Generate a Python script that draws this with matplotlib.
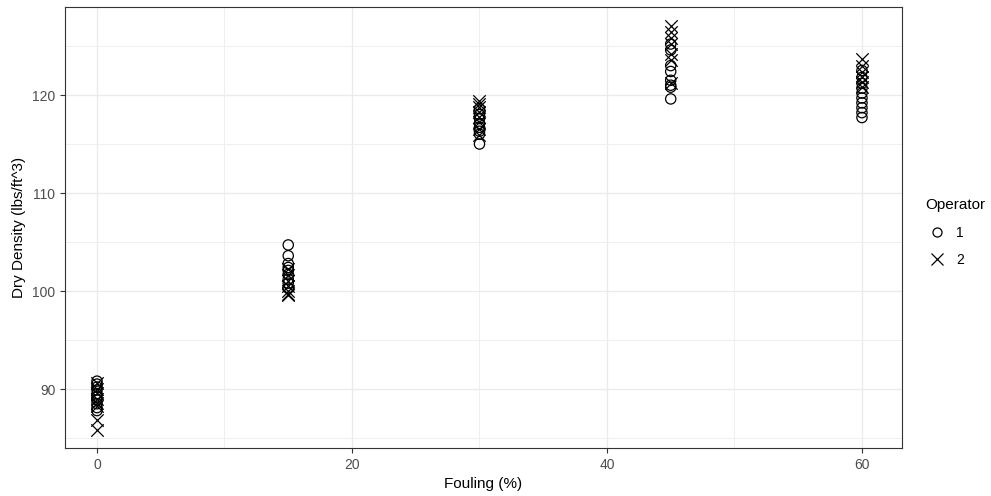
import matplotlib
matplotlib.use("Agg")
import matplotlib.pyplot as plt
from matplotlib.ticker import MultipleLocator
from matplotlib.lines import Line2D

plt.rcParams['font.family'] = ['Liberation Sans', 'DejaVu Sans']

fouling = [0, 15, 30, 45, 60]
op1 = {
    0: [90.8, 90.5, 90.2, 89.9, 89.5, 89.2, 88.9, 88.5, 88.1, 87.8],
    15: [104.7, 103.6, 102.8, 102.4, 102.1, 101.7, 101.2, 100.8, 100.3],
    30: [118.6, 118.0, 117.6, 117.1, 116.7, 116.3, 116.0, 115.0],
    45: [125.2, 124.6, 123.0, 122.4, 121.5, 121.0, 120.8, 119.6],
    60: [122.5, 121.8, 121.2, 120.7, 120.2, 119.7, 119.2, 118.7, 118.2, 117.7],
}
op2 = {
    0: [90.6, 90.0, 89.6, 89.0, 88.6, 88.3, 86.8, 85.8],
    15: [102.2, 101.6, 101.0, 100.5, 100.0, 99.7, 99.6],
    30: [119.4, 119.1, 118.8, 118.3, 117.8, 117.2, 116.5, 115.9],
    45: [127.0, 126.4, 125.8, 125.2, 124.2, 123.6, 121.2],
    60: [123.7, 123.0, 122.3, 121.8, 121.3, 120.8],
}

fig = plt.figure(figsize=(9.91, 4.96), dpi=100)
ax = fig.add_axes([65/991, 1-448/496, (902-65)/991, (448-7)/496])

for f in fouling:
    ax.scatter([f]*len(op1[f]), op1[f], marker='o', s=55, facecolors='none',
               edgecolors='black', linewidths=0.9, zorder=3)
    ax.scatter([f]*len(op2[f]), op2[f], marker='x', s=80, c='black',
               linewidths=0.9, zorder=3)

ax.set_xlim(-2.51, 63.14)
ax.set_ylim(83.98, 128.98)
ax.xaxis.set_major_locator(MultipleLocator(20))
ax.xaxis.set_minor_locator(MultipleLocator(10))
ax.yaxis.set_major_locator(MultipleLocator(10))
ax.yaxis.set_minor_locator(MultipleLocator(5))
ax.grid(which='major', color='#ebebeb', linewidth=1.0, zorder=0)
ax.grid(which='minor', color='#efefef', linewidth=0.7, zorder=0)
ax.set_axisbelow(True)
ax.tick_params(which='minor', length=0)
ax.tick_params(which='major', length=3.5, color='#333333', labelcolor='#4d4d4d',
               labelsize=10, width=0.8)
for sp in ax.spines.values():
    sp.set_color('#333333')
    sp.set_linewidth(0.8)

ax.set_xlabel('Fouling (%)', fontsize=11, color='black', labelpad=4)
ax.set_ylabel('Dry Density (lbs/ft^3)', fontsize=11, color='black', labelpad=4)

handles = [
    Line2D([], [], marker='o', linestyle='none', markerfacecolor='none',
           markeredgecolor='black', markersize=6.5, markeredgewidth=0.9),
    Line2D([], [], marker='x', linestyle='none', color='black', markersize=9,
           markeredgewidth=0.9),
]
leg = fig.legend(handles, ['1', '2'], title='Operator', loc='upper left',
                 bbox_to_anchor=(913/991, 1-186/496), frameon=False,
                 fontsize=10, title_fontsize=11, handletextpad=0.6,
                 labelspacing=0.95, handlelength=1.6)
leg._legend_box.align = 'left'

fig.savefig('out.png', dpi=100)
